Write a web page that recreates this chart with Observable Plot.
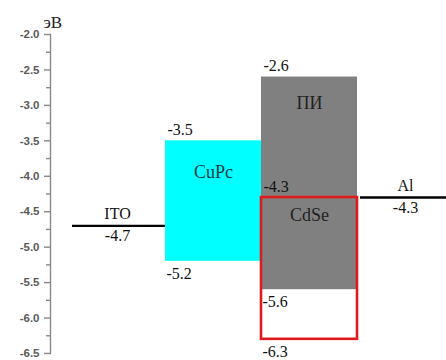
<!DOCTYPE html>
<html>
<head>
<meta charset="utf-8">
<script src="https://cdn.jsdelivr.net/npm/d3@7"></script>
<script src="https://cdn.jsdelivr.net/npm/@observablehq/plot@0.6"></script>
<style>
  html, body { margin: 0; padding: 0; background: #fff; }
</style>
</head>
<body>
<div id="chart"></div>
<script>
// Columns of the energy diagram
const columns = ["ITO", "CuPc", "ПИ", "Al"];

// Electrode work functions (horizontal lines)
const lineNames = ["ITO", "Al"];
const lineLevels = [-4.7, -4.3];

// Band boxes
const boxNames = ["CuPc", "ПИ", "CdSe"];
const boxColumns = ["CuPc", "ПИ", "ПИ"];
const boxTops = [-3.5, -2.6, -4.3];
const boxBottoms = [-5.2, -5.6, -6.3];

// Axis ticks
const majorTicks = [-2.0, -2.5, -3.0, -3.5, -4.0, -4.5, -5.0, -5.5, -6.0, -6.5];
const minorTicks = [-2.25, -2.75, -3.25, -3.75, -4.25, -4.75, -5.25, -5.75, -6.25];
const unitLabel = "эВ";

const lines = lineNames.map((n, i) => ({name: n, level: lineLevels[i]}));
const boxes = boxNames.map((n, i) => ({name: n, col: boxColumns[i], top: boxTops[i], bottom: boxBottoms[i]}));
const fill = {"CuPc": "#00ffff", "ПИ": "#808080"};
const nameColor = {"CuPc": "#103c3c", "ПИ": "#222", "CdSe": "#222"};

const serif = "Liberation Serif";
const fs = 16;

const chart = Plot.plot({
  width: 446,
  height: 360,
  marginLeft: 50,
  marginRight: 0,
  marginTop: 34,
  marginBottom: 7,
  style: {background: "#fff", overflow: "hidden"},
  x: {type: "band", domain: columns, range: [69, 453], padding: 0, axis: null},
  y: {domain: [-6.5, -2.0], axis: null},
  marks: [
    // filled bands
    Plot.barY(boxes.filter(d => fill[d.name]), {x: "col", y1: "top", y2: "bottom", fill: d => fill[d.name]}),
    // CdSe outline
    Plot.barY(boxes.filter(d => !fill[d.name]), {x: "col", y1: "top", y2: "bottom", fill: "none", stroke: "#e01a1a", strokeWidth: 2.6}),
    // electrode lines
    Plot.tickY(lines, {x: "name", y: "level", stroke: "#000", strokeWidth: 2.4, insetLeft: 3}),
    // y axis
    Plot.frame({anchor: "left", stroke: "#888", strokeWidth: 1.4}),
    Plot.axisY({ticks: minorTicks, tickSize: 4, text: null, stroke: "#888", strokeWidth: 1.4}),
    Plot.axisY({ticks: majorTicks, tickSize: 6, tickPadding: 5, stroke: "#888", strokeWidth: 1.4,
      tickFormat: d => d.toFixed(1), fill: "#5a5a5a", fontSize: 11.5, fontWeight: "bold",
      fontFamily: "Liberation Sans", label: null}),
    Plot.text([unitLabel], {frameAnchor: "top-left", dx: -7, dy: -7, lineAnchor: "bottom", textAnchor: "start",
      fontFamily: serif, fontSize: 17, fill: "#222"}),
    // electrode names and values
    Plot.text(lines, {x: "name", y: "level", text: "name", lineAnchor: "bottom", dy: -7, fontFamily: serif, fontSize: fs, fill: "#111"}),
    Plot.text(lines, {x: "name", y: "level", text: d => d.level.toFixed(1), lineAnchor: "top", dy: 4, fontFamily: serif, fontSize: fs, fill: "#111"}),
    // box values
    Plot.text(boxes, {x: "col", y: "top", text: d => d.top.toFixed(1), textAnchor: "start", dx: -46, lineAnchor: "bottom", dy: -6, fontFamily: serif, fontSize: fs, fill: "#111"}),
    Plot.text(boxes, {x: "col", y: "bottom", text: d => d.bottom.toFixed(1), textAnchor: "start", dx: -47, lineAnchor: "top", dy: 6, fontFamily: serif, fontSize: fs, fill: "#111"}),
    // box names
    Plot.text(boxes.filter(d => d.name === "CuPc"), {x: "col", y: "top", text: "name", lineAnchor: "top", dy: 24, fontFamily: serif, fontSize: 18, fill: d => nameColor[d.name]}),
    Plot.text(boxes.filter(d => d.name === "ПИ"), {x: "col", y: "top", text: "name", lineAnchor: "top", dy: 19, fontFamily: serif, fontSize: 18, fill: d => nameColor[d.name]}),
    Plot.text(boxes.filter(d => d.name === "CdSe"), {x: "col", y: "top", text: "name", lineAnchor: "top", dy: 11, fontFamily: serif, fontSize: 18, fill: d => nameColor[d.name]})
  ]
});
document.getElementById("chart").appendChild(chart);
</script>
</body>
</html>
